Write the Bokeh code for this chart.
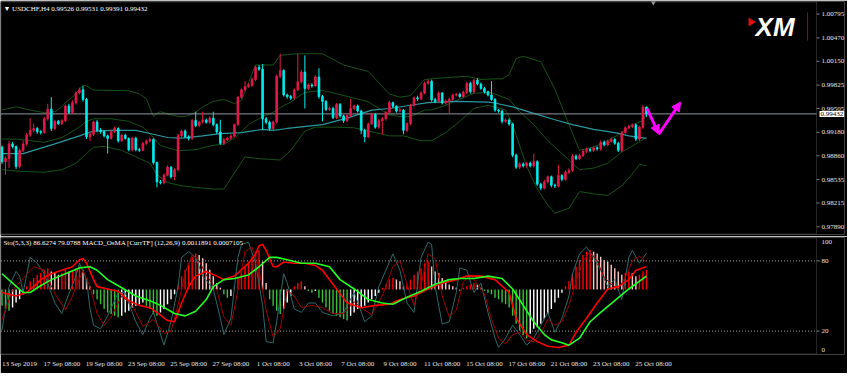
from bokeh.plotting import figure
from bokeh.models import (Range1d, FixedTicker, Label, Arrow, NormalHead, BoxAnnotation,
                          ColumnDataSource, PrintfTickFormatter)
from bokeh.layouts import column
from bokeh.embed import file_html
from bokeh.resources import INLINE

# ---------------- data (USDCHF H4) ----------------
first_open = 0.98978
closes = [
    0.98780, 0.98824, 0.99022, 0.98987, 0.98714, 0.98934, 0.99022, 0.99145, 0.99207, 0.99233,
    0.99189, 0.99180, 0.99365, 0.99497, 0.99233, 0.99330, 0.99299, 0.99339, 0.99541, 0.99453,
    0.99585, 0.99717, 0.99761, 0.99629, 0.99119, 0.99154, 0.99321, 0.99207, 0.99189, 0.99132,
    0.99097, 0.99189, 0.99233, 0.99066, 0.99141, 0.99097, 0.98943, 0.99101, 0.98943, 0.98934,
    0.99031, 0.99062, 0.99084, 0.98767, 0.98503, 0.98494, 0.98595, 0.98705, 0.98573, 0.98670,
    0.99132, 0.99198, 0.99119, 0.99097, 0.99343, 0.99273, 0.99321, 0.99348, 0.99317, 0.99374,
    0.99286, 0.99185, 0.99031, 0.99079, 0.99101, 0.99128, 0.99286, 0.99660, 0.99761, 0.99805,
    0.99823, 0.99902, 1.00069, 1.00043, 0.99365, 0.99317, 0.99233, 0.99321, 0.99946, 1.00025,
    0.99691, 0.99669, 0.99647, 0.99761, 0.99871, 1.00003, 0.99779, 0.99827, 0.99814, 0.99937,
    0.99669, 0.99603, 0.99493, 0.99506, 0.99383, 0.99563, 0.99405, 0.99339, 0.99409, 0.99506,
    0.99541, 0.99471, 0.99207, 0.99119, 0.99295, 0.99427, 0.99251, 0.99339, 0.99365, 0.99453,
    0.99585, 0.99537, 0.99471, 0.99484, 0.99207, 0.99299, 0.99550, 0.99651, 0.99638, 0.99717,
    0.99849, 0.99876, 0.99625, 0.99603, 0.99717, 0.99581, 0.99607, 0.99629, 0.99691, 0.99700,
    0.99669, 0.99726, 0.99849, 0.99735, 0.99893, 0.99840, 0.99779, 0.99735, 0.99691, 0.99629,
    0.99484, 0.99471, 0.99330, 0.99348, 0.99295, 0.98868, 0.98705, 0.98749, 0.98723, 0.98758,
    0.98723, 0.98780, 0.98472, 0.98419, 0.98503, 0.98573, 0.98459, 0.98450, 0.98591, 0.98538,
    0.98635, 0.98661, 0.98855, 0.98820, 0.98864, 0.98921, 0.98947, 0.98934, 0.98969, 0.98956,
    0.99044, 0.99009, 0.99057, 0.99084, 0.99031, 0.98934, 0.99176, 0.99242, 0.99260, 0.99282,
    0.99088, 0.99251, 0.99526, 0.99432]
highs = [
    0.99000, 0.98850, 0.99066, 0.99050, 0.99000, 0.98960, 0.99066, 0.99170, 0.99374, 0.99300,
    0.99255, 0.99210, 0.99390, 0.99570, 0.99660, 0.99350, 0.99350, 0.99360, 0.99560, 0.99570,
    0.99616, 0.99740, 0.99790, 0.99814, 0.99650, 0.99180, 0.99340, 0.99350, 0.99240, 0.99210,
    0.99150, 0.99210, 0.99260, 0.99250, 0.99160, 0.99160, 0.99110, 0.99120, 0.99120, 0.98970,
    0.99050, 0.99080, 0.99110, 0.99100, 0.98780, 0.98530, 0.98620, 0.98730, 0.98720, 0.98690,
    0.99160, 0.99220, 0.99220, 0.99140, 0.99360, 0.99462, 0.99340, 0.99462, 0.99370, 0.99400,
    0.99462, 0.99300, 0.99352, 0.99100, 0.99120, 0.99150, 0.99300, 0.99680, 0.99780, 0.99880,
    0.99850, 0.99930, 1.00090, 1.00100, 1.00113, 0.99390, 0.99340, 0.99340, 0.99970, 1.00254,
    1.00040, 0.99710, 0.99690, 0.99780, 1.00254, 1.00030, 1.00232, 0.99850, 0.99850, 0.99960,
    1.00056, 0.99690, 0.99620, 0.99530, 0.99530, 0.99580, 0.99580, 0.99420, 0.99430, 0.99638,
    0.99560, 0.99560, 0.99490, 0.99230, 0.99310, 0.99450, 0.99440, 0.99360, 0.99390, 0.99470,
    0.99610, 0.99600, 0.99550, 0.99510, 0.99500, 0.99320, 0.99570, 0.99670, 0.99680, 0.99740,
    0.99870, 0.99900, 0.99900, 0.99650, 0.99740, 0.99730, 0.99630, 0.99650, 0.99710, 0.99720,
    0.99720, 0.99750, 0.99870, 0.99870, 0.99910, 0.99920, 0.99860, 0.99800, 0.99750, 0.99880,
    0.99650, 0.99500, 0.99490, 0.99370, 0.99370, 0.99310, 0.98890, 0.98770, 0.98770, 0.98780,
    0.98780, 0.98890, 0.98800, 0.98490, 0.98530, 0.98590, 0.98590, 0.98480, 0.98736, 0.98610,
    0.98660, 0.98690, 0.98880, 0.98880, 0.98890, 0.98950, 0.98970, 0.98970, 0.98990, 0.98990,
    0.99070, 0.99070, 0.99080, 0.99110, 0.99100, 0.99050, 0.99200, 0.99260, 0.99280, 0.99300,
    0.99300, 0.99270, 0.99550, 0.99531]
lows = [
    0.98750, 0.98600, 0.98692, 0.98960, 0.98680, 0.98690, 0.98910, 0.99000, 0.99120, 0.99180,
    0.99160, 0.99150, 0.99160, 0.99340, 0.99198, 0.99210, 0.99280, 0.99280, 0.99320, 0.99430,
    0.99430, 0.99560, 0.99700, 0.99600, 0.99090, 0.99060, 0.99130, 0.99180, 0.99160, 0.99110,
    0.98890, 0.99080, 0.99170, 0.99040, 0.99050, 0.99080, 0.98920, 0.98920, 0.98920, 0.98910,
    0.98920, 0.99010, 0.99040, 0.98740, 0.98428, 0.98470, 0.98470, 0.98580, 0.98550, 0.98530,
    0.98650, 0.99110, 0.99100, 0.99070, 0.99080, 0.99250, 0.99250, 0.99300, 0.99300, 0.99300,
    0.99260, 0.99160, 0.99010, 0.99010, 0.99060, 0.99080, 0.99110, 0.99270, 0.99640, 0.99740,
    0.99790, 0.99800, 0.99880, 1.00020, 0.99220, 0.99290, 0.99200, 0.99210, 0.99300, 0.99920,
    0.99670, 0.99640, 0.99620, 0.99630, 0.99740, 0.99850, 0.99506, 0.99760, 0.99790, 0.99800,
    0.99640, 0.99330, 0.99470, 0.99470, 0.99360, 0.99360, 0.99380, 0.99310, 0.99320, 0.99390,
    0.99480, 0.99450, 0.99154, 0.99044, 0.99100, 0.99280, 0.99230, 0.99230, 0.99154, 0.99340,
    0.99430, 0.99510, 0.99450, 0.99450, 0.99154, 0.99180, 0.99280, 0.99530, 0.99610, 0.99620,
    0.99700, 0.99830, 0.99600, 0.99580, 0.99590, 0.99560, 0.99560, 0.99440, 0.99610, 0.99670,
    0.99650, 0.99650, 0.99700, 0.99710, 0.99710, 0.99820, 0.99760, 0.99710, 0.99670, 0.99610,
    0.99460, 0.99450, 0.99300, 0.99310, 0.99270, 0.98840, 0.98680, 0.98680, 0.98700, 0.98700,
    0.98700, 0.98700, 0.98450, 0.98390, 0.98400, 0.98480, 0.98430, 0.98420, 0.98430, 0.98510,
    0.98520, 0.98610, 0.98640, 0.98800, 0.98800, 0.98840, 0.98900, 0.98910, 0.98910, 0.98930,
    0.98930, 0.98990, 0.98990, 0.99040, 0.99010, 0.98910, 0.98910, 0.99160, 0.99220, 0.99240,
    0.99060, 0.99060, 0.99230, 0.99391]

# Bollinger bands and moving average (read at sampled candles)
upper_idx = [0, 4, 8, 12, 15, 17, 18, 20, 23, 24, 26, 36, 39, 41, 43, 44, 45, 50, 52, 55,
             57, 60, 63, 66, 68, 70, 72, 77, 79, 84, 91, 97, 104, 110, 113, 116, 120, 125, 132, 136,
             140, 142, 144, 146, 148, 153, 157, 161, 164, 168, 172, 176, 179, 182, 183]
upper_val = [0.99484, 0.99528, 0.99484, 0.99449, 0.99462, 0.99528, 0.99585, 0.99660, 0.99823, 0.99814,
             0.99757, 0.99748, 0.99704, 0.99638, 0.99396, 0.99440, 0.99462, 0.99396, 0.99396, 0.99453,
             0.99528, 0.99603, 0.99629, 0.99572, 0.99616, 0.99858, 1.00100, 1.00100, 1.00232, 1.00254,
             1.00254, 1.00100, 1.00012, 0.99704, 0.99660, 0.99682, 0.99902, 0.99924, 0.99946, 0.99902,
             0.99911, 0.99911, 0.99968, 1.00188, 1.00219, 1.00144, 0.99770, 0.99286, 0.98934, 0.98978,
             0.99066, 0.99176, 0.99286, 0.99339, 0.99440]
mid_idx = [0, 4, 8, 12, 17, 21, 24, 26, 31, 36, 40, 43, 45, 50, 55, 60, 63, 66, 70, 74,
           77, 79, 82, 86, 91, 95, 100, 104, 110, 113, 116, 120, 122, 126, 130, 134, 138, 140, 144, 147,
           151, 155, 159, 162, 164, 168, 172, 176, 180, 183]
mid_val = [0.99088, 0.99088, 0.99066, 0.99044, 0.99110, 0.99220, 0.99330, 0.99365, 0.99365, 0.99330,
           0.99251, 0.99110, 0.99000, 0.98930, 0.98943, 0.99004, 0.99018, 0.99101, 0.99286, 0.99396,
           0.99453, 0.99519, 0.99594, 0.99726, 0.99752, 0.99708, 0.99647, 0.99598, 0.99418, 0.99396,
           0.99396, 0.99484, 0.99488, 0.99550, 0.99634, 0.99713, 0.99726, 0.99704, 0.99629, 0.99462,
           0.99286, 0.99066, 0.98890, 0.98758, 0.98670, 0.98692, 0.98758, 0.98912, 0.99022, 0.99110]
lower_idx = [0, 5, 12, 17, 21, 24, 26, 29, 34, 38, 42, 44, 47, 51, 55, 60, 63, 66, 69, 72,
             79, 82, 86, 89, 95, 100, 106, 110, 114, 119, 122, 126, 130, 134, 138, 140, 143, 145, 149, 152,
             155, 157, 161, 164, 168, 172, 176, 180, 181, 183]
lower_val = [0.98670, 0.98648, 0.98635, 0.98670, 0.98758, 0.98890, 0.98978, 0.98987, 0.98934, 0.98846,
             0.98758, 0.98604, 0.98494, 0.98450, 0.98428, 0.98406, 0.98406, 0.98626, 0.98846, 0.98824,
             0.98802, 0.98934, 0.99198, 0.99251, 0.99251, 0.99242, 0.99176, 0.99132, 0.99132, 0.99066,
             0.99066, 0.99176, 0.99330, 0.99506, 0.99550, 0.99528, 0.99484, 0.99286, 0.98714, 0.98406,
             0.98186, 0.98076, 0.98142, 0.98371, 0.98340, 0.98318, 0.98450, 0.98670, 0.98745, 0.98723]
ma_idx = [0, 6, 9, 15, 22, 26, 31, 38, 43, 47, 51, 57, 62, 68, 74, 77, 81, 91, 98, 105,
          110, 116, 121, 129, 138, 140, 145, 151, 157, 162, 168, 174, 178, 183]
ma_val = [0.98890, 0.98890, 0.98934, 0.99022, 0.99132, 0.99198, 0.99207, 0.99207, 0.99154, 0.99110,
          0.99101, 0.99132, 0.99163, 0.99176, 0.99220, 0.99207, 0.99233, 0.99286, 0.99374, 0.99484,
          0.99506, 0.99550, 0.99585, 0.99603, 0.99594, 0.99581, 0.99528, 0.99440, 0.99352, 0.99286,
          0.99220, 0.99176, 0.99132, 0.99097]

# forecast arrow path (candle index, price)
arrow_x = [183.2, 186.5, 192.7]
arrow_y = [0.99505, 0.99154, 0.99594]

price_ticks = [0.97890, 0.98215, 0.98535, 0.98860, 0.99180, 0.99505, 0.99825, 1.00150, 1.00470, 1.00795]

# lower panel: Stochastic(5,3,3) and MACD_OsMA
sto_levels = [20, 80]
sto_k_idx = [0, 2, 4, 5, 6, 8, 10, 12, 15, 17, 18, 21, 22, 24, 25, 26, 28, 30, 33, 35,
             36, 38, 40, 42, 43, 46, 48, 50, 51, 53, 55, 57, 60, 62, 63, 65, 67, 68, 70, 72,
             74, 75, 77, 78, 80, 81, 83, 85, 87, 89, 91, 94, 97, 100, 103, 105, 107, 109, 111, 113,
             115, 117, 119, 121, 122, 123, 125, 127, 129, 130, 132, 134, 136, 138, 140, 141, 143, 145, 147, 149,
             151, 153, 155, 157, 159, 161, 162, 164, 166, 168, 170, 172, 174, 176, 178, 179, 181, 183]
sto_k_val = [21, 58, 71, 67, 53, 83, 78, 69, 44, 35, 44, 67, 78, 64, 39, 25, 22, 33, 53, 53,
             44, 28, 17, 31, 36, 8, 28, 58, 83, 88, 83, 67, 56, 31, 17, 31, 83, 94, 96, 78,
             42, 11, 10, 28, 69, 61, 39, 36, 44, 44, 36, 33, 36, 53, 28, 33, 58, 72, 86, 72,
             44, 36, 83, 96, 94, 58, 26, 28, 53, 74, 72, 53, 61, 36, 14, 6, 14, 25, 17, 8,
             14, 25, 36, 19, 31, 50, 69, 86, 92, 83, 72, 58, 64, 47, 83, 89, 78, 86.6274]
sto_d_idx = [0, 3, 6, 9, 12, 15, 18, 20, 23, 25, 27, 29, 31, 34, 37, 40, 43, 46, 48, 50,
             52, 54, 56, 58, 61, 63, 65, 67, 69, 71, 73, 75, 77, 79, 81, 83, 85, 88, 91, 94,
             97, 100, 102, 105, 108, 111, 113, 115, 117, 119, 121, 123, 125, 127, 129, 131, 133, 135, 137, 139,
             141, 143, 145, 147, 149, 151, 153, 155, 157, 159, 161, 163, 165, 167, 169, 171, 173, 175, 177, 179,
             181, 183]
sto_d_val = [30, 55, 65, 75, 72, 52, 38, 50, 72, 58, 35, 25, 32, 50, 42, 24, 30, 18, 20, 42,
             70, 85, 80, 68, 55, 32, 25, 55, 88, 92, 72, 38, 15, 22, 55, 50, 40, 42, 40, 35,
             35, 45, 40, 34, 50, 75, 80, 60, 42, 60, 86, 82, 50, 32, 38, 62, 68, 60, 52, 30,
             14, 9, 17, 19, 12, 11, 18, 30, 25, 28, 42, 62, 80, 88, 80, 66, 60, 56, 66, 80,
             84, 79.0788]
macd_idx = [0, 4, 7, 9, 11, 14, 17, 20, 22, 23, 24, 26, 27, 30, 33, 36, 39, 42, 44, 47,
            49, 51, 53, 55, 58, 61, 63, 66, 70, 72, 73, 74, 75, 77, 78, 80, 83, 86, 89, 91,
            95, 98, 102, 106, 110, 113, 117, 121, 125, 129, 132, 136, 140, 144, 146, 149, 152, 155, 158, 161,
            163, 166, 169, 172, 175, 178, 180, 183]
macd_val = [53, 50, 53, 58, 64, 69, 72, 75, 81, 82, 78, 64, 58, 56, 54, 46, 42, 40, 36, 29,
            28, 44, 58, 67, 71, 67, 64, 67, 78, 86, 93, 94, 89, 75, 75, 79, 78, 78, 76, 72,
            56, 44, 40, 42, 43, 47, 50, 56, 61, 64, 67, 67, 64, 53, 31, 17, 11, 7, 6, 8,
            19, 31, 44, 56, 58, 64, 72, 75]
signal_idx = [0, 3, 6, 8, 10, 14, 18, 22, 25, 27, 30, 34, 38, 42, 45, 49, 52, 55, 58, 60,
              63, 66, 70, 73, 76, 78, 81, 85, 89, 93, 96, 100, 104, 108, 111, 115, 119, 123, 127, 130,
              134, 138, 142, 145, 148, 151, 154, 156, 159, 161, 164, 167, 170, 174, 178, 183]
signal_val = [69, 61, 53, 53, 57, 64, 69, 74, 75, 72, 64, 57, 50, 46, 42, 35, 33, 37, 47, 58,
              64, 65, 68, 75, 83, 83, 81, 78, 78, 75, 64, 56, 47, 44, 43, 49, 54, 60, 64, 65,
              65, 67, 65, 56, 42, 28, 17, 12.5, 10, 8, 14, 28, 36, 46, 56, 67]
osma = [
    -0.0010, -0.0012, -0.0013, -0.0011, -0.0008, -0.0006, -0.0003, 0.0002, 0.0005, 0.0007,
    0.0009, 0.0010, 0.0012, 0.0013, 0.0011, 0.0010, 0.0009, 0.0010, 0.0012, 0.0011,
    0.0012, 0.0013, 0.0014, 0.0012, 0.0007, 0.0002, -0.0003, -0.0006, -0.0009, -0.0012,
    -0.0014, -0.0015, -0.0016, -0.0017, -0.0016, -0.0014, -0.0013, -0.0011, -0.0010, -0.0009,
    -0.0008, -0.0010, -0.0012, -0.0015, -0.0016, -0.0014, -0.0012, -0.0009, -0.0006, -0.0003,
    0.0003, 0.0008, 0.0012, 0.0016, 0.0020, 0.0022, 0.0021, 0.0019, 0.0016, 0.0012,
    0.0008, 0.0004, 0.0001, -0.0003, -0.0005, -0.0004, 0.0002, 0.0007, 0.0011, 0.0014,
    0.0017, 0.0020, 0.0023, 0.0024, 0.0017, 0.0004, -0.0006, -0.0010, -0.0013, -0.0015,
    -0.0012, -0.0008, -0.0004, 0.0002, 0.0004, 0.0005, 0.0002, -0.0001, -0.0002, -0.0001,
    -0.0005, -0.0008, -0.0011, -0.0013, -0.0015, -0.0016, -0.0017, -0.0018, -0.0019, -0.0016,
    -0.0014, -0.0012, -0.0011, -0.0010, -0.0008, -0.0006, -0.0004, -0.0002, 0.0001, 0.0003,
    0.0006, 0.0007, 0.0006, 0.0005, 0.0002, 0.0003, 0.0006, 0.0009, 0.0011, 0.0013,
    0.0016, 0.0017, 0.0014, 0.0011, 0.0010, 0.0007, 0.0005, 0.0003, 0.0002, 0.0001,
    -0.0001, 0.0001, 0.0002, 0.0003, 0.0004, 0.0003, 0.0001, -0.0001, -0.0002, -0.0003,
    -0.0005, -0.0006, -0.0008, -0.0009, -0.0011, -0.0016, -0.0021, -0.0025, -0.0028, -0.0030,
    -0.0027, -0.0024, -0.0023, -0.0021, -0.0018, -0.0015, -0.0012, -0.0008, -0.0005, -0.0002,
    0.0002, 0.0005, 0.0010, 0.0014, 0.0018, 0.0021, 0.0023, 0.0024, 0.0023, 0.0022,
    0.0020, 0.0018, 0.0017, 0.0015, 0.0013, 0.0011, 0.0009, 0.0010, 0.0011, 0.0010,
    0.0008, 0.0009, 0.0011, 0.0011891]

date_idx = [0, 12, 24, 36, 48, 60, 72, 84, 96, 108, 120, 132, 144, 156, 168, 180]
date_labels = ["13 Sep 2019", "17 Sep 08:00", "19 Sep 08:00", "23 Sep 08:00", "25 Sep 08:00",
               "27 Sep 08:00", "1 Oct 08:00", "3 Oct 08:00", "7 Oct 08:00", "9 Oct 08:00",
               "11 Oct 08:00", "15 Oct 08:00", "17 Oct 08:00", "21 Oct 08:00", "23 Oct 08:00",
               "25 Oct 08:00"]

# ---------------- style / geometry ----------------
FONT = "Liberation Sans Narrow"
BG = "#000000"
FRAME = "#808080"
TXT = "#e6e6e6"
BULL = "#e6194b"
BEAR = "#00eeee"
BAND = "#175217"
MA = "#2a98a0"
MAG = "#ff00ff"
LABEL_SHIFT = 5          # date labels start just right of their tick, as in MT4
X_START, X_END = -0.425, 239.24
X_LEFT, X_EDGE = -0.28, 231.3   # visible panel border (price scale lies right of it)
Y0, Y1 = 0.97785, 1.00967
STANDOFF = -23

n = len(closes)
idx = list(range(n))
opens = [first_open] + closes[:-1]
ccol = [BULL if c >= o else BEAR for o, c in zip(opens, closes)]
src = ColumnDataSource(dict(x=idx, h=highs, l=lows,
                            top=[max(a, b) for a, b in zip(opens, closes)],
                            bot=[min(a, b) for a, b in zip(opens, closes)], col=ccol))

xr = Range1d(X_START, X_END)
common = dict(output_backend="svg", toolbar_location=None, background_fill_color=BG,
              border_fill_color=BG, outline_line_color=None, min_border_left=0,
              min_border_right=1, y_axis_location="right", width=847)


def style_yaxis(ax):
    ax.major_label_text_font = FONT
    ax.major_label_text_font_size = "7px"
    ax.major_label_text_color = TXT
    ax.axis_line_color = None
    ax.major_tick_line_color = None
    ax.major_tick_out = 0
    ax.major_tick_in = 0
    ax.minor_tick_line_color = None
    ax.major_label_standoff = STANDOFF


# ---------------- main price panel ----------------
p1 = figure(height=236, x_range=xr, y_range=Range1d(Y0, Y1), x_axis_location=None,
            min_border_top=1, min_border_bottom=2, **common)
p1.grid.visible = False

ya = p1.yaxis[0]
ya.ticker = FixedTicker(ticks=price_ticks)
ya.formatter = PrintfTickFormatter(format="%.5f")
style_yaxis(ya)

# indicator lines
p1.line(upper_idx, upper_val, line_color=BAND, line_width=1)
p1.line(mid_idx, mid_val, line_color=BAND, line_width=1)
p1.line(lower_idx, lower_val, line_color=BAND, line_width=1)
p1.line(ma_idx, ma_val, line_color=MA, line_width=1.2)

# current price line
p1.segment(x0=[X_LEFT], y0=[closes[-1]], x1=[X_EDGE], y1=[closes[-1]], line_color="#8c96a0", line_width=1)

# candles
p1.segment(x0="x", y0="l", x1="x", y1="h", line_color="col", line_width=1, source=src)
p1.vbar(x="x", width=0.5, top="top", bottom="bot", fill_color="col", line_color="col",
        line_width=0.8, source=src)

# forecast arrows
for k in range(2):
    p1.add_layout(Arrow(end=NormalHead(size=9, fill_color=MAG, line_color=MAG), line_color=MAG,
                        line_width=3, x_start=arrow_x[k], y_start=arrow_y[k],
                        x_end=arrow_x[k + 1], y_end=arrow_y[k + 1]))

# chart shift marker
p1.scatter([184.97], [Y1], marker="inverted_triangle", size=7, fill_color="#9a9a9a", line_color=None)

# panel border and price-scale tick marks
eps1 = 0.00007
p1.add_layout(BoxAnnotation(left=X_LEFT, right=X_EDGE, bottom=Y0 + eps1, top=Y1 - eps1,
                            fill_color=None, fill_alpha=0, line_color=FRAME, line_width=1))
p1.segment(x0=[X_EDGE] * len(price_ticks), y0=price_ticks, x1=[X_EDGE + 0.85] * len(price_ticks),
           y1=price_ticks, line_color=FRAME, line_width=1)

# header
hdr = "\u25bc USDCHF,H4  %.5f %.5f %.5f %.5f" % (opens[-1], highs[-1], lows[-1], closes[-1])
p1.add_layout(Label(x=0.4, y=1.00871, text=hdr, text_font=FONT, text_font_size="7px",
                    text_color="#ffffff", text_baseline="middle"))

# current price box on the price scale
p1.add_layout(Label(x=232.15, y=closes[-1], text="%.5f" % closes[-1], text_font=FONT,
                    text_font_size="7px", text_color="#000000", text_baseline="middle",
                    background_fill_color="#ffffff", padding=1))

# XM logo
LOGO_X, LOGO_Y = 214.0, 1.00612
p1.patch([LOGO_X - 2.0, LOGO_X + 0.1, LOGO_X - 2.0], [1.00748, 1.00687, 1.00626],
         fill_color="#e01010", line_color=None)
p1.add_layout(Label(x=LOGO_X, y=LOGO_Y, text="XM", text_font="Liberation Sans",
                    text_font_style="bold italic", text_font_size="26px", text_color="#ffffff",
                    text_baseline="alphabetic"))
p1.segment(x0=[228.75], y0=[1.00817], x1=[228.75], y1=[1.00434], line_color="#b00000", line_width=1)

# ---------------- lower indicator panel ----------------
p2 = figure(height=137, x_range=xr, y_range=Range1d(0, 100), x_axis_location="below",
            min_border_top=1, min_border_bottom=19, **common)
p2.grid.visible = False
p2.extra_y_ranges = {"osma": Range1d(-0.00397, 0.00317)}

hcol = []
for i, v in enumerate(osma):
    prev = osma[i - 1] if i > 0 else 0.0
    if v >= 0:
        hcol.append("#ff0000" if v >= prev else "#ffc4c4")
    else:
        hcol.append("#3cc03c" if v < prev else "#ffffff")
hsrc = ColumnDataSource(dict(x=idx, v=osma, col=hcol))
p2.vbar(x="x", top="v", bottom=0, width=0.4, fill_color="col", line_color=None,
        y_range_name="osma", source=hsrc)

for lv in sto_levels:
    p2.line([X_LEFT, X_EDGE], [lv, lv], line_color="#a0a0a0", line_dash="1 2", line_width=1)

p2.line(sto_k_idx, sto_k_val, line_color="#2c6a6a", line_width=1)
p2.line(sto_d_idx, sto_d_val, line_color="#a00000", line_width=1)
p2.line(macd_idx, macd_val, line_color="#ff0000", line_width=1.6)
p2.line(signal_idx, signal_val, line_color="#22ff22", line_width=1.6)

eps2 = 0.43
p2.add_layout(BoxAnnotation(left=X_LEFT, right=X_EDGE, bottom=eps2, top=100 - eps2,
                            fill_color=None, fill_alpha=0, line_color=FRAME, line_width=1))
p2.segment(x0=[X_EDGE] * 2, y0=sto_levels, x1=[X_EDGE + 0.85] * 2, y1=sto_levels,
           line_color=FRAME, line_width=1)

# MT4 keeps the 0 and 100 captions inside the panel
ya2 = p2.yaxis[0]
ya2.ticker = FixedTicker(ticks=[3.5, 20, 80, 96.5])
ya2.major_label_overrides = {3.5: "0", 20: "20", 80: "80", 96.5: "100"}
style_yaxis(ya2)

xa = p2.xaxis[0]
lab_ticks = [d + LABEL_SHIFT for d in date_idx]
xa.ticker = FixedTicker(ticks=lab_ticks)
xa.major_label_overrides = {t: s for t, s in zip(lab_ticks, date_labels)}
xa.major_tick_out = 0
xa.major_tick_in = 0
xa.major_tick_line_color = None
xa.minor_tick_line_color = None
xa.axis_line_color = None
xa.major_label_standoff = 5
xa.major_label_text_font = FONT
xa.major_label_text_font_size = "7px"
xa.major_label_text_color = TXT

sub = "Sto(5,3,3) %.4f %.4f  MACD_OsMA [CurrTF] (12,26,9) 0.0011891 0.0007105" % (sto_k_val[-1], sto_d_val[-1])
p2.add_layout(Label(x=0.4, y=94.9, text=sub, text_font=FONT, text_font_size="7px",
                    text_color="#ffffff", text_baseline="middle"))

layout = column(p1, p2, spacing=0)
open("out.html", "w").write(file_html(layout, INLINE))
